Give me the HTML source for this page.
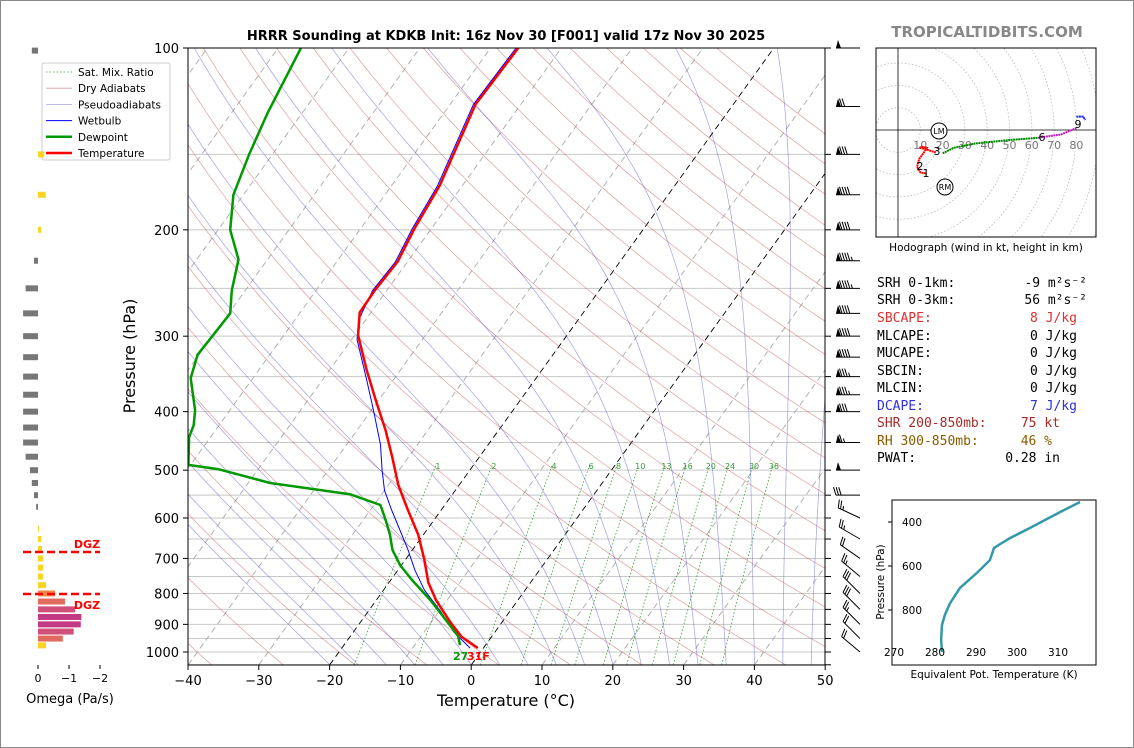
<!DOCTYPE html>
<html><head><meta charset="utf-8"><style>
html,body{margin:0;padding:0;background:#fff;}
svg{display:block;font-family:"DejaVu Sans","Liberation Sans",sans-serif;}
</style></head><body>
<svg id="s" width="1134" height="748" viewBox="0 0 1134 748" xmlns="http://www.w3.org/2000/svg">
<rect x="0.5" y="0.5" width="1133" height="747" fill="#fff" stroke="#888"/>
<text x="506" y="40" text-anchor="middle" font-size="13" font-weight="bold">HRRR Sounding at KDKB Init: 16z Nov 30 [F001] valid 17z Nov 30 2025</text>
<text x="987" y="37" text-anchor="middle" font-size="15" font-weight="bold" fill="#888">TROPICALTIDBITS.COM</text>
<defs><clipPath id="pc"><rect x="188" y="48" width="637" height="617"/></clipPath>
<clipPath id="hc"><rect x="876" y="48" width="220" height="189"/></clipPath>
<clipPath id="tc"><rect x="892" y="500" width="204" height="165"/></clipPath></defs>
<g id="bg" clip-path="url(#pc)"></g>
<g id="prof" clip-path="url(#pc)"></g>
<rect x="188" y="48" width="637" height="617" fill="none" stroke="#000"/>
<g id="axes"></g>
<text x="506" y="706" text-anchor="middle" font-size="16">Temperature (°C)</text>
<text transform="translate(135,356) rotate(-90)" text-anchor="middle" font-size="16">Pressure (hPa)</text>
<text x="453" y="660" font-size="11" font-weight="bold" fill="#009900">27</text>
<text x="467" y="660" font-size="11" font-weight="bold" fill="#ff0000">31F</text>
<g id="legend">
<rect x="42" y="63" width="128" height="97" fill="#fff" stroke="#ccc" rx="2"/>
</g>
<g id="barbs"></g>
<g id="omega"></g>
<g id="hodo"></g>
<text x="986" y="251" text-anchor="middle" font-size="10.5">Hodograph (wind in kt, height in km)</text>
<g id="params" font-family="'DejaVu Sans Mono','Liberation Mono',monospace" font-size="13"></g>
<g id="thetae"></g>
</svg>
<script>
// ---- Sounding data ----
const tempP = [985,944,891,820,766,704,640,582,529,477,429,383,341,299,274,252,226,199,169,124,100];
const tempC = [-0.8,-4.2,-7.4,-11.6,-14.5,-17.3,-20.7,-24.7,-28.6,-32.2,-36,-40.4,-44.8,-49.5,-51.6,-51.7,-51.4,-52.4,-53.2,-56.4,-56.1];
const dewP = [974,941,878,820,760,718,678,640,605,571,548,525,498,490,441,421,398,352,322,299,275,252,224,200,175,150,128,100];
const dewC = [-3.6,-4.8,-8.6,-12.4,-17,-20.2,-22.8,-24.7,-26.8,-29.1,-34.5,-46.9,-55.7,-60.3,-63,-63.6,-64.9,-68.8,-70.2,-70,-69.8,-71.9,-74.1,-78.3,-81.4,-83.3,-84.9,-86.8];
const wbP = [985,928,856,790,732,678,628,582,540,500,454,398,354,304,282,252,226,199,169,124,100];
const wbC = [-1.9,-5.7,-9.8,-14.2,-17.6,-20.6,-23.8,-27,-30,-32.4,-35.2,-39.7,-43.8,-49.2,-51,-52,-51.7,-52.7,-53.5,-56.7,-56.4];
// winds
const windP = [100,125,150,175,200,225,250,275,300,325,350,375,400,450,500,550,600,650,700,750,800,850,900,950,1000];
const windSpd = [50,70,80,90,90,95,95,90,90,90,85,85,80,65,50,30,25,25,20,25,30,30,25,20,20];
const windDir = [270,270,270,270,270,270,270,270,270,270,270,270,270,270,270,270,295,300,305,310,315,315,315,315,310];
// omega
const omegaP = [101,150,175,200,225,250,275,300,325,350,375,400,425,450,475,500,525,550,575,625,650,675,700,725,750,775,800,825,850,875,900,925,950,975];
const omegaV = [0.2,-0.2,-0.25,-0.1,0.13,0.4,0.48,0.48,0.48,0.48,0.48,0.48,0.48,0.48,0.4,0.26,0.2,0.13,0.06,-0.03,-0.1,-0.13,-0.16,-0.16,-0.16,-0.26,-0.55,-0.87,-1.2,-1.4,-1.38,-1.15,-0.8,-0.26];
// hodograph (kt)
const hodoRedU=[12.5,10,8.5,9.5,12,13,11,9.5,12,15,17];
const hodoRedV=[-19.5,-19,-16.5,-13,-9.5,-8,-7.5,-8,-8.5,-9.5,-10];
const hodoGreenU=[20,25,35,50,63];
const hodoGreenV=[-10.5,-8,-6,-4.5,-3.5];
const hodoMagU=[63,66,73,80];
const hodoMagV=[-3.5,-3,-2,0.8];
const hodoBlueU=[80,83,84];
const hodoBlueV=[6,6,4.5];
// theta-e
const thetaP=[991,936,868,823,768,700,627,573,518,500,473,427,355,309];
const thetaK=[281.7,281.5,281.7,282.4,283.7,286.1,290.5,293.4,294.4,295.9,298.3,303.2,310.5,315.4];
// ticks
const tempTicks=[-40,-30,-20,-10,0,10,20,30,40,50];
const presLabels=[100,200,300,400,500,600,700,800,900,1000];
const mixRatios=[1,2,4,6,8,10,13,16,20,24,30,36];
const omegaTicks=[0,-1,-2];
const thetaTicks=[270,280,290,300,310];
const thetaPTicks=[400,600,800];

const NS="http://www.w3.org/2000/svg";
function mk(tag,attrs,parent){const e=document.createElementNS(NS,tag);for(const k in attrs)e.setAttribute(k,attrs[k]);parent.appendChild(e);return e;}
const yP=p=>48+(Math.log10(p)-2)*604;
const xT=(T,p)=>188+(T+40)*7.08+0.72*(665-yP(p));
const G=id=>document.getElementById(id);
const bg=G('bg'),prof=G('prof'),axes=G('axes');

function poly(pts,attrs,parent){return mk('polyline',Object.assign({points:pts.map(q=>q[0].toFixed(1)+','+q[1].toFixed(1)).join(' '),fill:'none'},attrs),parent);}

// isobars
for(let p=100;p<=1050;p+=50){const l=mk('line',{x1:188,x2:825,y1:yP(p),y2:yP(p),stroke:'#c8c8c8','stroke-width':1},bg);

}
// isotherms
for(let T=-130;T<=50;T+=10){const l=mk('line',{x1:xT(T,1050),y1:yP(1050),x2:xT(T,100),y2:yP(100),stroke:(T==0||T==-20)?'#000':'#aaa','stroke-width':0.9,'stroke-dasharray':'6,4'},bg);

}
// dry adiabats
for(let th=-40;th<=200;th+=10){const pts=[];for(let p=1050;p>=100;p-=10){const T=(th+273.15)*Math.pow(p/1000,0.2857)-273.15;pts.push([xT(T,p),yP(p)]);}
const l=poly(pts,{stroke:'rgba(190,80,80,0.55)','stroke-width':0.7},bg);

}
// moist adiabats
function es(T){return 6.112*Math.exp(17.67*T/(T+243.5));}
for(let t0=-20;t0<=48;t0+=4){const pts=[];let T=t0+273.15;for(let p=1050;p>=100;p-=5){pts.push([xT(T-273.15,p),yP(p)]);
const e=es(T-273.15),rs=0.622*e/(p-e);const dT=(287*T+2.5e6*rs)/(p*(1004+2.5e6*2.5e6*rs*0.622/(287*T*T)));T-=dT*5;}
const l=poly(pts,{stroke:'rgba(70,70,200,0.5)','stroke-width':0.7},bg);

}
// mixing ratio
mixRatios.forEach(w=>{const pts=[];const Tw=p=>{const e=w*p/(622+w);const a=Math.log(e/6.112);return 243.5*a/(17.67-a);};
for(let p=1050;p>=490;p-=10)pts.push([xT(Tw(p),p),yP(p)]);
const l=poly(pts,{stroke:'#3a9a3a','stroke-width':0.8,'stroke-dasharray':'1.5,2'},bg);


const t=mk('text',{x:xT(Tw(482),482),y:469,'font-size':8,fill:'#3a9a3a','text-anchor':'middle'},bg);t.textContent=w;

});
// profiles
function prof_line(P,T,color,w,name){const l=poly(P.map((p,i)=>[xT(T[i],p),yP(p)]),{stroke:color,'stroke-width':w,'stroke-linejoin':'round'},prof);

}
prof_line(wbP,wbC,'#0000ff',1,'wetbulb-line');
prof_line(dewP,dewC,'#009900',2.5,'dewpoint-line');
prof_line(tempP,tempC,'#ff0000',2.5,'temperature-line');
// axes ticks
tempTicks.forEach(T=>{const x=188+(T+40)*7.08;mk('line',{x1:x,x2:x,y1:665,y2:670,stroke:'#000'},axes);
const t=mk('text',{x:x,y:685,'text-anchor':'middle','font-size':13},axes);t.textContent=T<0?'\u2212'+(-T):T;

});
presLabels.forEach(p=>{const y=yP(p);mk('line',{x1:183,x2:188,y1:y,y2:y,stroke:'#000'},axes);
const t=mk('text',{x:179,y:y+5,'text-anchor':'end','font-size':13},axes);t.textContent=p;

});
for(let p=100;p<=1050;p+=50){mk('line',{x1:825,x2:831,y1:yP(p),y2:yP(p),stroke:'#000'},axes);}
// legend
const leg=G('legend');const legItems=[['Sat. Mix. Ratio','#3a9a3a',0.8,'1.5,2'],['Dry Adiabats','rgba(190,80,80,0.55)',0.8,''],['Pseudoadiabats','rgba(70,70,200,0.5)',0.8,''],['Wetbulb','#0000ff',1,''],['Dewpoint','#009900',2.5,''],['Temperature','#ff0000',2.5,'']];
legItems.forEach((it,i)=>{const y=72+i*16.2;const l=mk('line',{x1:46,x2:72,y1:y,y2:y,stroke:it[1],'stroke-width':it[2],'stroke-dasharray':it[3]||'none'},leg);


const t=mk('text',{x:78,y:y+4,'font-size':10.5},leg);t.textContent=it[0];

});
// barbs
const bb=G('barbs');
windP.forEach((p,i)=>{const y=yP(p),bx=860;const d=windDir[i]*Math.PI/180;const sx=Math.sin(d),sy=-Math.cos(d);const px=-sy,py=sx;const L=24;
const g=mk('g',{},bb);


mk('line',{x1:bx,y1:y,x2:bx+sx*L,y2:y+sy*L,stroke:'#000','stroke-width':1},g);
let s=windSpd[i];const fl=Math.floor(s/50);s-=fl*50;const full=Math.floor(s/10);s-=full*10;const half=s>=5?1:0;
let pos=L;
for(let k=0;k<fl;k++){const a=[bx+sx*pos,y+sy*pos],b=[bx+sx*(pos-5),y+sy*(pos-5)],c=[bx+sx*(pos-2)+px*8,y+sy*(pos-2)+py*8];
mk('polygon',{points:[a,c,b].map(q=>q.join(',')).join(' '),fill:'#000'},g);pos-=6;}
if(fl==0&&full==0)pos-=2;
for(let k=0;k<full;k++){mk('line',{x1:bx+sx*pos,y1:y+sy*pos,x2:bx+sx*(pos+2.5)+px*8,y2:y+sy*(pos+2.5)+py*8,stroke:'#000','stroke-width':1},g);pos-=2.6;}
if(half){mk('line',{x1:bx+sx*pos,y1:y+sy*pos,x2:bx+sx*(pos+1.2)+px*4,y2:y+sy*(pos+1.2)+py*4,stroke:'#000','stroke-width':1},g);}
});
// omega panel
const om=G('omega');const ox=38,os=31;
function ocol(v){if(v>0)return '#777';const m=-v;if(m<0.3)return '#f9d423';if(m<0.7)return '#f08a4b';if(m<1.0)return '#e26b5f';if(m<1.25)return '#d0507a';return '#c23a84';}
omegaP.forEach((p,i)=>{const v=omegaV[i];const y=yP(p);const w=Math.abs(v)*os;const x=v>0?ox-w:ox;
const r=mk('rect',{x:x,y:y-3,width:Math.max(w,0.8),height:6,fill:ocol(v)},om);

});
[552,594].forEach(y=>{const l=mk('line',{x1:23,x2:100,y1:y,y2:y,stroke:'#ff0000','stroke-width':2.5,'stroke-dasharray':'8,4'},om);

});
[[87,548],[87,609]].forEach(q=>{const t=mk('text',{x:q[0],y:q[1],'text-anchor':'middle','font-size':11,'font-weight':'bold',fill:'#ff0000'},om);t.textContent='DGZ';

});
omegaTicks.forEach(v=>{const x=ox-v*os;mk('line',{x1:x,x2:x,y1:665,y2:669,stroke:'#000'},om);
const t=mk('text',{x:x,y:682,'text-anchor':'middle','font-size':11},om);t.textContent=v<0?'\u2212'+(-v):v;

});
{const t=mk('text',{x:70,y:703,'text-anchor':'middle','font-size':13},om);t.textContent='Omega (Pa/s)';

}
// hodograph
const ho=G('hodo');const hx=898,hy=130,hs=2.23;
const hb=mk('g',{'clip-path':'url(#hc)'},ho);
for(let r=10;r<=120;r+=10)mk('circle',{cx:hx,cy:hy,r:r*hs,fill:'none',stroke:'#bbb','stroke-width':0.8,'stroke-dasharray':'1.5,2'},hb);
mk('line',{x1:876,x2:1096,y1:hy,y2:hy,stroke:'#000','stroke-width':0.8},hb);
mk('line',{x1:hx,x2:hx,y1:48,y2:237,stroke:'#000','stroke-width':0.8},hb);
mk('rect',{x:876,y:48,width:220,height:189,fill:'none',stroke:'#000'},ho);
for(let k=10;k<=80;k+=10){const t=mk('text',{x:hx+k*hs,y:149,'text-anchor':'middle','font-size':11,fill:'#777'},ho);t.textContent=k;

}
function hl(U,V,c,name){const l=poly(U.map((u,i)=>[hx+u*hs,hy-V[i]*hs]),{stroke:c,'stroke-width':2,'stroke-dasharray':'2,0.5'},ho);

}
hl(hodoRedU,hodoRedV,'#ff0000','hodograph-0-3km');hl(hodoGreenU,hodoGreenV,'#008800','hodograph-3-6km');hl(hodoMagU,hodoMagV,'#c020c0','hodograph-6-9km');hl(hodoBlueU,hodoBlueV,'#2020ff','hodograph-9km-plus');
[['1',926,177],['2',920,170],['3',937,155],['6',1042,141],['9',1078,128]].forEach(q=>{const t=mk('text',{x:q[1],y:q[2],'text-anchor':'middle','font-size':11},ho);t.textContent=q[0];

});
[['LM',939,131],['RM',945,187]].forEach(q=>{mk('circle',{cx:q[1],cy:q[2],r:8,fill:'#fff',stroke:'#000'},ho);const t=mk('text',{x:q[1],y:q[2]+3,'text-anchor':'middle','font-size':8},ho);t.textContent=q[0];

});
// params
const pa=G('params');
const rows=[['SRH 0-1km:','-9 m²s⁻²','#000',1087,287],['SRH 0-3km:','56 m²s⁻²','#000',1087,304],['SBCAPE:','8 J/kg','#e03030',1077,322],['MLCAPE:','0 J/kg','#000',1077,340],['MUCAPE:','0 J/kg','#000',1077,357],['SBCIN:','0 J/kg','#000',1077,375],['MLCIN:','0 J/kg','#000',1077,392],['DCAPE:','7 J/kg','#3030e0',1077,410],['SHR 200-850mb:','75 kt','#a52a2a',1060,427],['RH 300-850mb:','46 %','#8b5a00',1052,445],['PWAT:','0.28 in','#000',1060,462]];
rows.forEach(r=>{const a=mk('text',{x:877,y:r[4],fill:r[2]},pa);a.textContent=r[0];


const b=mk('text',{x:r[3],y:r[4],fill:r[2],'text-anchor':'end'},pa);b.textContent=r[1];

});
// theta-e
const te=G('thetae');const tx=k=>894+(k-270)*4.1,ty=p=>522+(p-400)*0.22;
mk('rect',{x:892,y:500,width:204,height:165,fill:'none',stroke:'#000'},te);
{const l=poly(thetaP.map((p,i)=>[tx(thetaK[i]),ty(p)]),{stroke:'#3399aa','stroke-width':2.5,'clip-path':'url(#tc)'},te);

}
thetaTicks.forEach(k=>{const t=mk('text',{x:tx(k),y:656,'text-anchor':'middle','font-size':10.5},te);t.textContent=k;

});
thetaPTicks.forEach(p=>{mk('line',{x1:888,x2:892,y1:ty(p),y2:ty(p),stroke:'#000'},te);const t=mk('text',{x:922,y:ty(p)+4,'text-anchor':'end','font-size':10.5},te);t.textContent=p;

});
{const t=mk('text',{x:994,y:678,'text-anchor':'middle','font-size':10.5},te);t.textContent='Equivalent Pot. Temperature (K)';


const t2=mk('text',{transform:'translate(884,582) rotate(-90)','text-anchor':'middle','font-size':10.5},te);t2.textContent='Pressure (hPa)';

}
</script>
</body></html>
